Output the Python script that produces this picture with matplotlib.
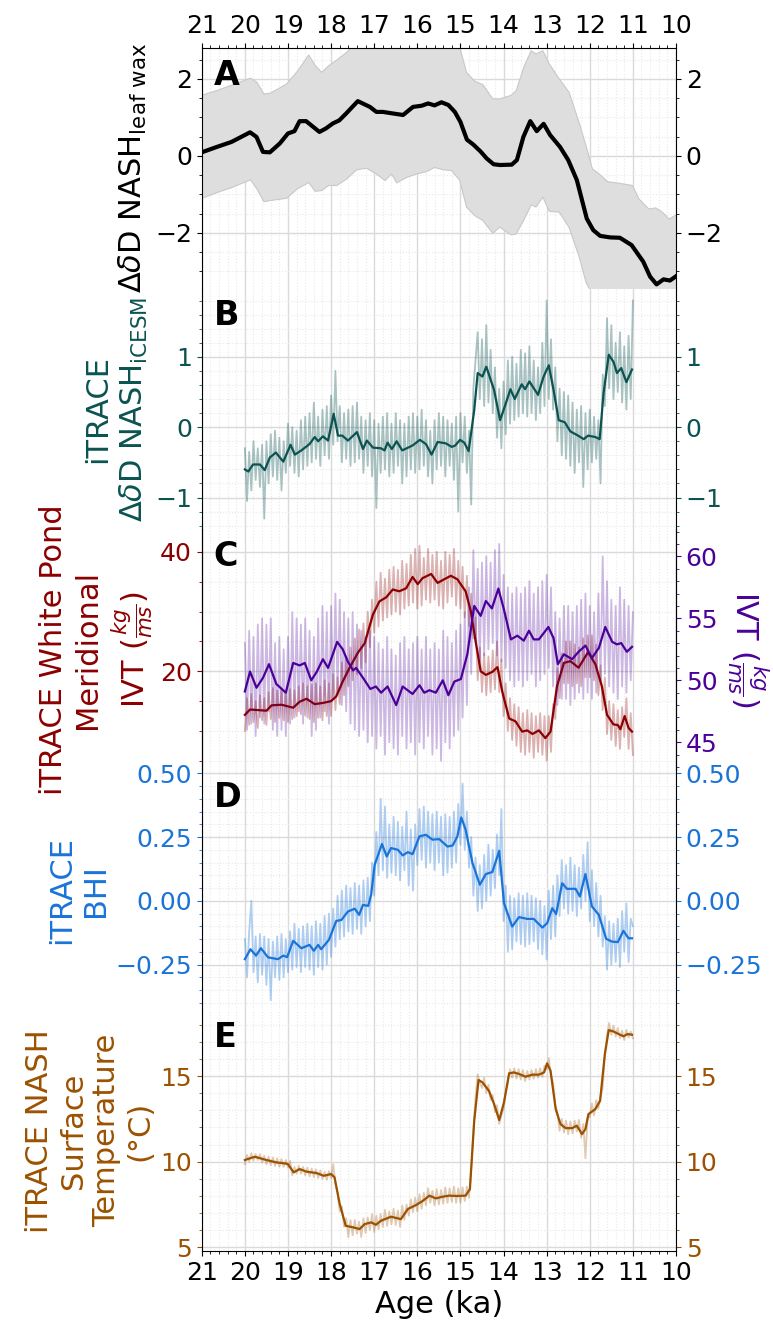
import numpy as np
import matplotlib
matplotlib.use("Agg")
import matplotlib.pyplot as plt
from matplotlib.ticker import MultipleLocator, AutoMinorLocator

# ---------------- data ----------------
# A: leaf wax dD record with uncertainty band
a_age = [21.0, 20.65, 20.31, 20.12, 19.88, 19.73, 19.58, 19.42, 19.19, 19.0, 18.85, 18.73, 18.58, 18.27, 18.12,
         17.96, 17.81, 17.65, 17.38, 17.1, 16.95, 16.8, 16.57, 16.33, 16.1, 15.9, 15.75, 15.6, 15.44, 15.28,
         15.13, 15.0, 14.85, 14.7, 14.54, 14.39, 14.23, 14.08, 13.81, 13.69, 13.54, 13.38, 13.23, 13.07, 12.92,
         12.69, 12.5, 12.3, 12.07, 11.92, 11.76, 11.53, 11.3, 11.03, 10.76, 10.6, 10.45, 10.29, 10.14, 10.0]
a_val = [0.09, 0.23, 0.36, 0.47, 0.61, 0.49, 0.10, 0.09, 0.32, 0.58, 0.64, 0.90, 0.90, 0.62, 0.71,
         0.84, 0.92, 1.10, 1.42, 1.27, 1.14, 1.14, 1.10, 1.06, 1.27, 1.30, 1.36, 1.31, 1.39, 1.32,
         1.14, 0.88, 0.42, 0.29, 0.12, -0.07, -0.22, -0.24, -0.23, -0.11, 0.49, 0.90, 0.64, 0.83, 0.54,
         0.23, -0.11, -0.63, -1.63, -1.93, -2.08, -2.12, -2.13, -2.32, -2.75, -3.14, -3.34, -3.21, -3.24, -3.13]

band_age = [21.0, 20.65, 20.31, 19.88, 19.73, 19.57, 19.42, 19.04, 18.80, 18.53, 18.38, 18.23, 18.07, 17.88,
            17.65, 17.42, 17.19, 16.96, 16.76, 16.61, 16.49, 16.26, 16.03, 15.80, 15.61, 15.41, 15.22, 15.03,
            14.87, 14.68, 14.49, 14.26, 14.10, 13.84, 13.72, 13.53, 13.37, 13.26, 13.10, 12.95, 12.72, 12.49,
            12.26, 12.10, 11.95, 11.79, 11.60, 11.33, 11.02, 10.87, 10.64, 10.48, 10.33, 10.17, 10.0]
band_hi = [1.59, 1.71, 1.85, 2.03, 1.92, 1.62, 1.64, 1.88, 2.20, 2.63, 2.36, 2.18, 2.35, 2.50,
           2.70, 2.95, 3.05, 3.10, 3.10, 3.10, 3.10, 3.10, 3.10, 3.10, 3.10, 3.05, 2.95, 2.85,
           2.18, 1.95, 1.86, 1.49, 1.49, 1.58, 1.70, 2.35, 2.74, 2.66, 2.74, 2.40, 2.01, 1.66,
           0.88, 0.28, -0.33, -0.46, -0.66, -0.70, -0.76, -1.11, -1.37, -1.34, -1.45, -1.63, -1.52]
band_lo = [-1.09, -0.94, -0.81, -0.61, -0.85, -1.18, -1.15, -1.09, -0.85, -0.68, -0.91, -0.89, -0.76, -0.76,
           -0.59, -0.35, -0.31, -0.46, -0.63, -0.46, -0.69, -0.55, -0.46, -0.40, -0.29, -0.35, -0.37, -0.62,
           -1.32, -1.54, -1.67, -2.00, -1.84, -2.04, -2.02, -1.63, -1.26, -1.32, -1.06, -1.43, -1.45, -1.85,
           -2.60, -3.27, -3.60, -3.60, -3.60, -3.60, -3.60, -3.60, -3.60, -3.60, -3.60, -3.60, -3.60]

# iTRACE model output, raw values every 0.05 ka from 20.0 to 11.0 ka
model_age = np.round(np.arange(20.0, 10.975, -0.05), 2)

b_raw = [-0.30, -1.05, -0.35, -0.90, -0.20, -0.75, -0.30, -0.85, -0.25, -1.30,
         -0.20, -0.80, -0.10, -0.70, -0.05, -0.75, -0.15, -0.90, -0.20, -0.65,
         0.05, -0.55, 0.00, -0.65, -0.05, -0.70, 0.10, -0.60, 0.15, -0.55,
         0.20, -0.50, 0.35, -0.45, 0.15, -0.55, 0.25, -0.40, 0.30, -0.45,
         0.45, -0.25, 0.80, -0.20, 0.30, -0.50, 0.20, -0.45, 0.25, -0.55,
         0.30, -0.50, 0.35, -0.45, 0.15, -0.65, 0.10, -0.55, 0.20, -0.70,
         0.10, -1.15, 0.05, -0.65, 0.15, -0.60, 0.20, -0.70, 0.05, -0.65,
         0.20, -0.55, 0.10, -0.80, 0.05, -0.70, 0.15, -0.60, 0.20, -0.65,
         0.15, -0.60, 0.25, -0.55, 0.10, -0.70, -0.05, -0.80, 0.10, -0.60,
         0.20, -0.55, 0.15, -0.70, 0.10, -0.55, 0.05, -0.75, 0.15, -1.20,
         0.20, -0.50, 0.15, -0.65, -0.05, -1.10, 0.55, 0.95, 1.35, 0.40,
         1.25, 0.30, 1.45, 0.35, 1.10, 0.20, 0.85, -0.15, 0.55, -0.30,
         0.65, -0.10, 0.95, 0.05, 1.00, 0.10, 0.90, 0.15, 1.10, 0.20,
         1.05, 0.15, 1.15, 0.20, 0.95, 0.10, 0.85, 0.20, 1.20, 0.30,
         1.80, 0.40, 1.25, 0.25, 0.85, -0.20, 0.55, -0.40, 0.50, -0.45,
         0.45, -0.55, 0.35, -0.65, 0.25, -0.50, 0.30, -0.85, 0.20, -0.60,
         0.25, -0.50, 0.15, -0.45, 0.10, -0.80, 0.75, 0.30, 1.55, 0.55,
         1.45, 0.40, 1.20, 0.50, 1.35, 0.35, 1.15, 0.25, 1.30, 0.40,
         1.80]
b_age = [20.0, 19.92, 19.81, 19.65, 19.54, 19.42, 19.28, 19.11, 18.94, 18.84, 18.69, 18.5, 18.38, 18.3, 18.19,
         18.07, 17.94, 17.84, 17.74, 17.61, 17.4, 17.26, 17.17, 17.03, 16.84, 16.76, 16.69, 16.59, 16.48, 16.35,
         16.11, 15.94, 15.8, 15.67, 15.53, 15.34, 15.2, 15.12, 15.01, 14.91, 14.81, 14.68, 14.6, 14.49, 14.4,
         14.22, 14.08, 13.99, 13.84, 13.74, 13.58, 13.5, 13.4, 13.2, 13.07, 12.95, 12.84, 12.72, 12.58, 12.45,
         12.27, 12.14, 12.04, 11.87, 11.77, 11.68, 11.56, 11.45, 11.37, 11.27, 11.15, 11.02]
b_smooth = [-0.60, -0.63, -0.53, -0.53, -0.61, -0.43, -0.36, -0.49, -0.25, -0.39, -0.33, -0.24, -0.14, -0.20, -0.13,
            -0.19, 0.19, -0.12, -0.12, -0.19, -0.07, -0.31, -0.19, -0.29, -0.30, -0.33, -0.22, -0.31, -0.20, -0.33,
            -0.26, -0.18, -0.24, -0.39, -0.21, -0.23, -0.28, -0.26, -0.18, -0.22, -0.34, 0.24, 0.77, 0.72, 0.86,
            0.53, 0.10, 0.26, 0.54, 0.40, 0.61, 0.54, 0.65, 0.46, 0.72, 0.88, 0.53, 0.10, 0.07, -0.06,
            -0.12, -0.17, -0.12, -0.14, -0.17, 0.48, 1.03, 0.93, 0.77, 0.84, 0.64, 0.82]

c_red_raw = [10.0, 15.5, 11.0, 16.2, 11.5, 15.0, 10.5, 16.0, 11.8, 15.5,
             11.0, 16.5, 12.0, 17.2, 11.5, 16.8, 12.2, 17.0, 11.8, 16.5,
             11.5, 17.0, 12.0, 16.8, 12.5, 17.5, 12.8, 18.0, 12.6, 17.5,
             12.0, 17.8, 11.5, 18.0, 12.2, 17.5, 11.8, 18.5, 12.5, 18.0,
             12.5, 19.5, 13.5, 19.0, 14.5, 21.5, 16.0, 22.5, 17.5, 24.0,
             18.5, 25.5, 19.5, 27.0, 20.5, 28.0, 21.5, 30.0, 24.0, 32.0,
             26.5, 35.0, 27.5, 36.5, 28.5, 35.5, 29.0, 37.0, 29.5, 37.5,
             30.0, 37.0, 29.5, 38.5, 30.5, 38.0, 31.0, 39.5, 31.5, 40.5,
             30.5, 41.0, 31.0, 39.0, 32.0, 40.5, 31.5, 39.5, 32.0, 40.0,
             31.0, 38.5, 30.5, 40.0, 31.5, 39.5, 32.5, 40.5, 31.0, 38.5,
             30.5, 37.5, 29.0, 36.0, 27.5, 33.0, 25.5, 29.0, 18.5, 24.0,
             16.5, 23.0, 16.0, 22.5, 16.5, 23.5, 17.0, 25.0, 16.5, 22.0,
             12.5, 18.0, 10.0, 15.5, 8.5, 14.5, 7.5, 14.0, 6.5, 13.0,
             6.0, 13.5, 6.5, 13.0, 5.5, 12.5, 6.5, 13.0, 6.0, 12.5,
             5.0, 12.5, 6.5, 14.5, 12.0, 20.5, 15.5, 23.0, 18.0, 25.0,
             18.0, 25.0, 17.5, 24.5, 18.0, 24.0, 17.5, 25.5, 19.0, 26.0,
             19.0, 26.0, 18.5, 24.5, 16.0, 21.0, 13.5, 19.0, 9.5, 15.0,
             8.5, 14.5, 7.5, 13.5, 7.0, 14.0, 9.0, 15.5, 7.0, 13.0,
             6.0]
c_red_age = [20.0, 19.88, 19.5, 19.38, 19.15, 19.04, 18.88, 18.73, 18.57, 18.38, 18.19, 18.0, 17.88, 17.73, 17.57,
             17.38, 17.22, 17.03, 16.88, 16.72, 16.57, 16.42, 16.26, 16.11, 15.99, 15.88, 15.68, 15.53, 15.38, 15.22,
             15.07, 14.88, 14.76, 14.64, 14.53, 14.41, 14.26, 14.14, 14.03, 13.87, 13.72, 13.57, 13.45, 13.33, 13.18,
             13.03, 12.91, 12.76, 12.6, 12.45, 12.26, 12.04, 11.87, 11.72, 11.6, 11.45, 11.35, 11.29, 11.19, 11.1,
             11.02]
c_red_smooth = [12.7, 13.6, 13.4, 14.3, 14.4, 14.2, 13.9, 14.9, 15.4, 14.5, 14.7, 15.0, 15.8, 18.3, 20.6,
                23.1, 24.7, 29.5, 31.7, 32.4, 33.7, 33.4, 33.9, 35.8, 34.6, 35.6, 36.3, 34.8, 35.4, 36.0,
                35.4, 33.4, 30.1, 24.7, 20.0, 19.4, 19.9, 20.7, 16.6, 12.1, 11.6, 9.9, 10.1, 9.5, 10.1,
                8.8, 9.9, 17.5, 21.4, 21.7, 20.6, 23.2, 21.2, 17.5, 12.7, 11.1, 11.0, 10.3, 12.5, 10.5,
                9.9]

c_pur_raw = [53.0, 46.0, 54.0, 46.5, 53.5, 45.5, 54.5, 47.0, 55.0, 46.5,
             54.5, 47.5, 55.0, 46.0, 53.0, 45.5, 53.5, 46.0, 52.5, 45.5,
             53.5, 46.5, 55.5, 47.0, 55.0, 47.5, 54.5, 46.5, 55.0, 47.0,
             54.0, 45.5, 53.5, 46.0, 55.0, 47.0, 56.0, 47.5, 55.5, 46.5,
             56.0, 48.5, 57.0, 49.0, 56.5, 48.0, 55.5, 47.5, 55.0, 46.5,
             55.5, 46.0, 54.5, 45.5, 54.0, 46.0, 53.5, 45.0, 54.0, 45.5,
             53.5, 44.5, 53.0, 45.5, 52.5, 44.0, 53.5, 45.0, 52.5, 44.5,
             52.0, 44.0, 53.0, 45.5, 53.5, 44.5, 52.5, 45.0, 53.0, 44.0,
             53.5, 45.0, 52.5, 44.5, 53.5, 45.5, 52.5, 44.0, 53.0, 44.5,
             52.5, 43.5, 54.0, 45.0, 53.5, 44.5, 53.0, 45.5, 54.0, 46.0,
             54.5, 47.0, 55.5, 48.0, 57.5, 50.5, 60.5, 53.0, 59.0, 51.5,
             59.5, 52.0, 60.0, 52.5, 59.5, 53.0, 60.5, 52.0, 61.0, 51.5,
             58.5, 51.0, 57.5, 50.0, 57.0, 49.5, 57.5, 50.0, 57.0, 49.5,
             57.5, 50.0, 58.0, 50.5, 57.0, 49.5, 57.5, 50.0, 58.0, 50.5,
             58.5, 51.0, 57.5, 49.5, 55.5, 48.0, 55.0, 48.5, 56.0, 48.5,
             56.0, 48.0, 55.5, 48.5, 56.0, 49.0, 56.5, 48.5, 57.0, 49.0,
             56.0, 48.5, 55.5, 49.0, 57.0, 50.0, 60.0, 50.5, 58.0, 49.5,
             56.5, 49.0, 56.0, 48.5, 57.5, 49.5, 56.5, 49.0, 56.0, 50.0,
             55.5]
c_pur_age = [20.0, 19.88, 19.73, 19.58, 19.44, 19.27, 19.05, 18.88, 18.73, 18.61, 18.46, 18.33, 18.19, 18.07, 17.86,
             17.73, 17.61, 17.49, 17.42, 17.26, 17.09, 16.96, 16.84, 16.69, 16.49, 16.34, 16.11, 15.95, 15.84, 15.72,
             15.57, 15.41, 15.28, 15.14, 14.99, 14.84, 14.68, 14.53, 14.41, 14.27, 14.12, 13.99, 13.83, 13.68, 13.53,
             13.41, 13.3, 13.18, 12.96, 12.84, 12.74, 12.6, 12.41, 12.26, 12.1, 11.95, 11.79, 11.64, 11.48, 11.37,
             11.27, 11.14, 11.02]
c_pur_smooth = [49.1, 50.7, 49.4, 50.2, 51.3, 49.7, 49.0, 51.4, 51.2, 51.4, 50.0, 50.7, 51.7, 51.0, 53.1,
                52.5, 51.5, 50.8, 51.0, 50.2, 49.3, 49.5, 49.0, 49.5, 48.0, 49.5, 48.9, 49.6, 49.0, 49.2,
                49.0, 50.0, 48.8, 49.9, 50.1, 52.1, 56.0, 55.2, 56.4, 55.8, 57.4, 55.7, 53.3, 53.6, 53.2,
                54.0, 53.3, 53.3, 54.3, 53.4, 51.3, 52.1, 51.7, 52.3, 52.8, 51.8, 52.6, 54.3, 53.1, 52.9,
                53.0, 52.3, 52.7]

d_raw = [-0.15, -0.30, -0.12, 0.00, -0.28, -0.14, -0.32, -0.13, -0.29, -0.14,
         -0.33, -0.15, -0.39, -0.16, -0.30, -0.14, -0.31, -0.13, -0.30, -0.15,
         -0.28, -0.12, -0.27, -0.09, -0.26, -0.11, -0.28, -0.10, -0.26, -0.09,
         -0.27, -0.10, -0.29, -0.08, -0.26, -0.09, -0.27, -0.06, -0.25, -0.05,
         -0.22, -0.03, -0.18, 0.02, -0.15, 0.04, -0.14, 0.06, -0.12, 0.05,
         -0.13, 0.07, -0.11, 0.06, -0.13, 0.08, -0.10, 0.09, -0.08, 0.15,
         0.02, 0.27, 0.10, 0.40, 0.12, 0.37, 0.09, 0.30, 0.11, 0.33,
         0.10, 0.31, 0.08, 0.29, 0.12, 0.35, 0.06, 0.28, 0.04, 0.30,
         0.14, 0.36, 0.16, 0.37, 0.13, 0.35, 0.15, 0.34, 0.12, 0.35,
         0.15, 0.33, 0.10, 0.34, 0.11, 0.33, 0.13, 0.35, 0.15, 0.38,
         0.22, 0.46, 0.20, 0.35, 0.13, 0.25, 0.02, 0.17, -0.04, 0.14,
         -0.03, 0.18, 0.00, 0.22, 0.02, 0.20, 0.05, 0.26, 0.10, 0.36,
         -0.08, 0.06, -0.20, 0.02, -0.19, 0.01, -0.16, 0.03, -0.17, 0.02,
         -0.18, 0.03, -0.17, 0.02, -0.16, 0.01, -0.19, 0.00, -0.21, -0.02,
         -0.23, 0.04, -0.15, 0.06, -0.14, 0.10, -0.06, 0.16, -0.03, 0.14,
         -0.05, 0.17, -0.04, 0.14, -0.06, 0.13, -0.03, 0.18, 0.00, 0.23,
         -0.08, 0.12, -0.10, 0.07, -0.14, 0.02, -0.18, -0.06, -0.27, -0.08,
         -0.25, -0.09, -0.24, -0.07, -0.26, -0.04, -0.20, -0.01, -0.24, -0.07,
         -0.10]
d_age = [20.0, 19.87, 19.74, 19.63, 19.46, 19.23, 19.11, 19.02, 18.88, 18.69, 18.5, 18.4, 18.3, 18.23, 18.05,
         17.88, 17.76, 17.61, 17.45, 17.35, 17.26, 17.14, 17.07, 16.99, 16.82, 16.71, 16.61, 16.45, 16.34, 16.22,
         16.11, 15.95, 15.8, 15.65, 15.49, 15.3, 15.18, 15.07, 14.98, 14.88, 14.72, 14.55, 14.41, 14.26, 14.1,
         13.99, 13.8, 13.64, 13.45, 13.3, 13.1, 12.99, 12.87, 12.78, 12.64, 12.53, 12.33, 12.23, 12.1, 11.95,
         11.79, 11.62, 11.49, 11.35, 11.22, 11.1, 11.02]
d_smooth = [-0.229, -0.19, -0.215, -0.186, -0.222, -0.229, -0.215, -0.221, -0.157, -0.186, -0.173, -0.196, -0.173,
            -0.19, -0.153, -0.079, -0.075, -0.042, -0.031, -0.055, -0.016, -0.02, 0.024, 0.141, 0.223, 0.174,
            0.207, 0.2, 0.178, 0.191, 0.183, 0.253, 0.259, 0.24, 0.242, 0.213, 0.217, 0.253, 0.327, 0.279,
            0.148, 0.063, 0.105, 0.113, 0.196, -0.009, -0.101, -0.064, -0.071, -0.071, -0.105, -0.088, -0.029,
            -0.052, 0.069, 0.047, 0.047, 0.017, 0.105, -0.022, -0.055, -0.149, -0.16, -0.162, -0.118, -0.147,
            -0.147]

e_raw = [9.85, 10.40, 10.00, 10.50, 10.05, 10.45, 10.10, 10.45, 9.95, 10.35,
         9.85, 10.30, 9.80, 10.25, 9.75, 10.20, 9.70, 10.15, 9.70, 10.10,
         9.65, 10.05, 9.20, 9.70, 9.30, 9.75, 9.30, 9.70, 9.20, 9.65,
         9.15, 9.60, 9.10, 9.55, 9.05, 9.50, 9.00, 9.40, 8.95, 9.45,
         9.05, 9.85, 8.70, 8.20, 7.10, 7.40, 6.20, 6.70, 5.60, 6.60,
         5.70, 6.60, 5.80, 6.50, 5.60, 6.70, 5.85, 6.75, 6.00, 6.95,
         5.90, 6.85, 6.05, 6.95, 6.20, 7.20, 6.25, 7.10, 6.35, 7.25,
         6.30, 7.15, 6.20, 7.45, 6.60, 7.50, 6.85, 7.80, 7.05, 7.90,
         7.10, 8.10, 7.25, 8.20, 7.45, 8.45, 7.60, 8.30, 7.45, 8.40,
         7.50, 8.35, 7.55, 8.50, 7.60, 8.45, 7.65, 8.55, 7.60, 8.45,
         7.60, 8.50, 7.70, 8.55, 7.90, 9.60, 11.80, 13.80, 15.10, 14.60,
         14.30, 14.90, 14.00, 14.50, 13.60, 13.90, 12.90, 13.30, 12.20, 12.70,
         13.10, 14.00, 14.60, 15.40, 14.90, 15.45, 14.85, 15.40, 14.80, 15.35,
         14.70, 15.30, 14.80, 15.35, 14.85, 15.40, 14.90, 15.45, 14.95, 15.60,
         15.40, 16.05, 15.00, 14.60, 13.30, 12.90, 11.80, 12.50, 11.70, 12.40,
         11.60, 12.35, 11.65, 12.40, 11.75, 12.45, 11.40, 12.20, 10.20, 12.60,
         12.60, 13.40, 12.70, 13.60, 13.10, 13.80, 14.30, 16.20, 17.40, 18.10,
         17.40, 17.95, 17.30, 17.80, 17.20, 17.65, 17.10, 17.70, 17.25, 17.60,
         17.20]
e_age = [20.0, 19.77, 19.5, 19.27, 19.07, 19.0, 18.87, 18.73, 18.57, 18.34, 18.17, 18.0, 17.92, 17.8, 17.66,
         17.49, 17.34, 17.22, 17.07, 16.96, 16.84, 16.61, 16.38, 16.22, 16.03, 15.87, 15.72, 15.57, 15.41, 15.26,
         15.07, 14.88, 14.78, 14.68, 14.58, 14.49, 14.34, 14.22, 14.1, 13.99, 13.87, 13.76, 13.64, 13.49, 13.33,
         13.18, 13.06, 12.99, 12.91, 12.79, 12.68, 12.56, 12.41, 12.3, 12.18, 12.1, 12.03, 11.87, 11.76, 11.65,
         11.56, 11.45, 11.33, 11.22, 11.12, 11.02]
e_smooth = [10.1, 10.29, 10.1, 9.96, 9.9, 9.86, 9.38, 9.57, 9.42, 9.34, 9.18, 9.28, 9.09, 7.53, 6.26,
            6.17, 6.07, 6.36, 6.46, 6.32, 6.56, 6.79, 6.65, 7.24, 7.47, 7.72, 8.02, 7.86, 7.96, 8.02,
            8.0, 8.02, 8.4, 12.39, 14.77, 14.63, 14.14, 13.37, 12.43, 13.46, 15.16, 15.21, 15.12, 14.96, 15.08,
            15.08, 15.21, 15.74, 15.31, 13.07, 12.2, 11.96, 11.96, 12.1, 11.61, 11.91, 12.78, 13.07, 13.56, 16.28,
            17.68, 17.6, 17.45, 17.32, 17.45, 17.41]

# colours
c_teal = "#0b5351"
c_red = "#8b0000"
c_pur = "#4b0099"
c_blue = "#1a74d8"
c_brown = "#9b5100"

# ---------------- figure ----------------
fig = plt.figure(figsize=(7.73, 13.29), dpi=100)
gs = fig.add_gridspec(5, 1, left=0.261, right=0.8745, top=1 - 48 / 1329, bottom=1 - 1251 / 1329, hspace=0)
ax_a = fig.add_subplot(gs[0])
axs = [ax_a] + [fig.add_subplot(gs[i], sharex=ax_a) for i in range(1, 5)]
ax_a, ax_b, ax_c, ax_d, ax_e = axs


def style(ax, color, ylim, major, nminor, first=False, last=False, right=True):
    ax.set_xlim(21, 10)
    ax.set_ylim(*ylim)
    ax.xaxis.set_major_locator(MultipleLocator(1))
    ax.xaxis.set_minor_locator(MultipleLocator(0.2))
    ax.yaxis.set_major_locator(MultipleLocator(major))
    ax.yaxis.set_minor_locator(AutoMinorLocator(nminor))
    ax.grid(which="major", color="#dadada", lw=1.0)
    ax.grid(which="minor", color="#e9e9e9", lw=0.8, ls=":")
    ax.set_axisbelow(True)
    ax.spines["top"].set_visible(first)
    ax.spines["bottom"].set_visible(last)
    ax.tick_params(axis="x", which="both", top=first, labeltop=first,
                   bottom=last, labelbottom=last, labelsize=18)
    ax.tick_params(axis="y", which="both", colors=color, labelsize=18,
                   right=right, labelright=right)


style(ax_a, "black", (-3.45, 2.80), 2, 4, first=True)
style(ax_b, c_teal, (-1.45, 1.97), 1, 5)
style(ax_c, c_red, (3.5, 43.8), 20, 4, right=False)
style(ax_d, c_blue, (-0.43, 0.514), 0.25, 5)
style(ax_e, c_brown, (4.79, 18.83), 5, 5, last=True)

# A
ax_a.fill_between(band_age, band_lo, band_hi, facecolor="#dedede", edgecolor="#c8c8c8", lw=0.8)
ax_a.plot(a_age, a_val, color="black", lw=3)
ax_a.set_ylabel(r"$\Delta\delta$D NASH$_{\mathrm{leaf\ wax}}$", fontsize=22)

# B
ax_b.plot(model_age, b_raw, color=c_teal, alpha=0.35, lw=1.3)
ax_b.plot(b_age, b_smooth, color=c_teal, lw=1.6)
ax_b.set_ylabel("iTRACE\n" + r"$\Delta\delta$D NASH$_{\mathrm{iCESM}}$", fontsize=22, color=c_teal)

# C
ax_c.plot(model_age, c_red_raw, color=c_red, alpha=0.3, lw=1.3)
ax_c.plot(c_red_age, c_red_smooth, color=c_red, lw=1.6)
ax_c.set_ylabel("iTRACE White Pond\nMeridional\n" + r"IVT ($\frac{kg}{ms}$)", fontsize=22, color=c_red)
ax_c2 = ax_c.twinx()
ax_c2.plot(model_age, c_pur_raw, color=c_pur, alpha=0.28, lw=1.3)
ax_c2.plot(c_pur_age, c_pur_smooth, color=c_pur, lw=1.6)
ax_c2.set_ylim(42.78, 62.19)
ax_c2.yaxis.set_major_locator(MultipleLocator(5))
ax_c2.yaxis.set_minor_locator(AutoMinorLocator(5))
ax_c2.spines["top"].set_visible(False)
ax_c2.spines["bottom"].set_visible(False)
ax_c2.tick_params(axis="x", which="both", top=False, bottom=False, labeltop=False, labelbottom=False)
ax_c2.tick_params(axis="y", which="both", colors=c_pur, labelsize=18)
ax_c2.set_ylabel(r"IVT ($\frac{kg}{ms}$)", fontsize=22, color=c_pur, rotation=270, va="bottom", labelpad=5)

# D
ax_d.plot(model_age, d_raw, color=c_blue, alpha=0.35, lw=1.3)
ax_d.plot(d_age, d_smooth, color=c_blue, lw=1.6)
ax_d.set_ylabel("iTRACE\nBHI", fontsize=22, color=c_blue)

# E
ax_e.plot(model_age, e_raw, color=c_brown, alpha=0.3, lw=1.3)
ax_e.plot(e_age, e_smooth, color=c_brown, lw=1.6)
ax_e.set_ylabel("iTRACE NASH\nSurface\nTemperature\n(°C)", fontsize=22, color=c_brown)
ax_e.set_xlabel("Age (ka)", fontsize=22)

# panel letters
for ax, letter in zip(axs, "ABCDE"):
    ax.text(0.025, 0.955, letter, transform=ax.transAxes, fontsize=24, fontweight="bold",
            ha="left", va="top", zorder=10)

fig.savefig("out.png", dpi=100)
